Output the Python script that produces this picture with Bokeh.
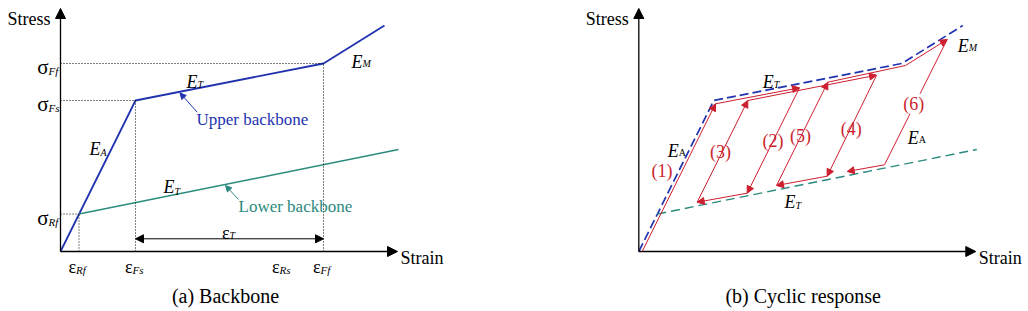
from bokeh.plotting import figure
from bokeh.layouts import row
from bokeh.models import Arrow, NormalHead, ColumnDataSource, Range1d
from bokeh.core.properties import value
from bokeh.embed import file_html
from bokeh.resources import INLINE

# ---------------- data (schematic units) ----------------
# upper backbone: austenite (E_A) -> transformation plateau (E_T) -> martensite (E_M)
upper_strain = [0.0, 7.5, 26.3, 32.4]
upper_stress = [0.0, 15.1, 18.8, 22.6]
# lower backbone (reverse transformation, E_T)
lower_strain = [1.85, 33.8]
lower_stress = [3.75, 10.2]
# characteristic strains / stresses (panel a)
eps_names = ["Rf", "Fs", "Rs", "Ff"]
eps_values = [1.85, 7.5, 22.2, 26.3]
sig_names = ["Rf", "Fs", "Ff"]
sig_values = [3.75, 15.1, 18.8]
sig_strain = [1.85, 7.5, 26.3]
# cyclic response path (panel b)
cyc_strain = [0.34, 7.67, 16.07, 10.84, 5.84, 10.9, 23.77, 18.84, 13.77, 18.9, 26.67, 30.84, 24.57, 20.84]
cyc_stress = [0.0, 14.77, 16.37, 5.83, 4.93, 15.1, 17.63, 7.53, 6.6, 16.93, 18.6, 21.2, 8.67, 8.0]
cyc_arrow = [True, True, True, True, True, True, True, True, True, False, True, False, True]
cyc_labels = ["(1)", "(2)", "(3)", "(4)", "(5)", "(6)"]
cyc_label_x = [2.33, 13.43, 8.17, 21.24, 16.17, 27.5]
cyc_label_y = [8.1, 11.1, 9.93, 12.27, 11.6, 14.77]
axis_len_x = 33.7
axis_len_y = 24.3

FONT = "Liberation Serif"
BLUE = "#2233b0"
TEAL = "#2a8a7e"
RED = "#cc1f30"


def lab(p, x, y, text, size=18, color="black", style="normal", align="left", baseline="alphabetic", bg=None):
    kw = {}
    if bg is not None:
        kw = dict(background_fill_color=bg)
    p.text(x=[x], y=[y], text=[text], text_align=align, text_baseline=baseline,
           text_font=value(FONT), text_font_size=f"{size}px", text_font_style=style,
           text_color=color, **kw)


def sub_label(p, x, y, main, sub, size=18, sub_size=10, color="black", style="italic",
              sub_style="italic", dy=0.3):
    lab(p, x, y, main, size=size, color=color, style=style, align="right")
    lab(p, x, y - dy, sub, size=sub_size, color=color, style=sub_style, align="left")


def make_fig(x0):
    p = figure(width=514, height=311, x_range=Range1d(x0, x0 + 51.4), y_range=Range1d(-6.0, 25.1),
               x_axis_type=None, y_axis_type=None, output_backend="svg", toolbar_location=None,
               min_border=0, outline_line_color=None, background_fill_color="white",
               border_fill_color="white")
    # axes as arrows
    p.add_layout(Arrow(end=NormalHead(size=10, fill_color="black", line_color="black"),
                       x_start=0, y_start=0, x_end=axis_len_x, y_end=0, line_width=1.3))
    p.add_layout(Arrow(end=NormalHead(size=10, fill_color="black", line_color="black"),
                       x_start=0, y_start=0, x_end=0, y_end=axis_len_y, line_width=1.3))
    lab(p, -1.0, 23.3, "Stress", size=18, align="right")
    lab(p, axis_len_x + 0.3, -0.6, "Strain", size=18, align="left")
    return p


# ---------------- panel (a) ----------------
pa = make_fig(-6.0)
pa.line(upper_strain, upper_stress, line_color=BLUE, line_width=1.8)
pa.line(lower_strain, lower_stress, line_color=TEAL, line_width=1.4)

# dotted guide lines
h = ColumnDataSource(dict(x0=[0] * len(sig_values), y0=sig_values, x1=sig_strain, y1=sig_values))
v = ColumnDataSource(dict(x0=sig_strain, y0=[0] * len(sig_values), x1=sig_strain, y1=sig_values))
for src in (h, v):
    pa.segment(x0="x0", y0="y0", x1="x1", y1="y1", source=src, line_color="black",
               line_width=1, line_dash="1 2")

for n, s in zip(sig_names, sig_values):
    sub_label(pa, -1.2, s - 0.35, "σ", n, size=21, sub_size=11, style="normal", dy=0.4)
for n, e in zip(eps_names, eps_values):
    sub_label(pa, e - 0.3, -1.5, "ε", n, size=18, sub_size=11, style="normal", dy=0.3)

# epsilon_T double arrow
pa.add_layout(Arrow(start=NormalHead(size=8, fill_color="black", line_color="black"),
                    end=NormalHead(size=8, fill_color="black", line_color="black"),
                    x_start=eps_values[1], y_start=1.27, x_end=eps_values[3], y_end=1.27, line_width=1))
sub_label(pa, (eps_values[1] + eps_values[3]) / 2, 1.83, "ε", "T", size=18, sub_size=10, style="normal", dy=0.25)

sub_label(pa, 13.7, 17.0, "E", "T")
sub_label(pa, 30.2, 19.0, "E", "M", dy=0.2)
sub_label(pa, 4.0, 10.27, "E", "A", dy=0.35)
sub_label(pa, 11.4, 6.5, "E", "T", dy=0.45)

# pointer arrows
pa.add_layout(Arrow(end=NormalHead(size=6, fill_color=BLUE, line_color=BLUE),
                    x_start=13.67, y_start=13.93, x_end=11.95, y_end=15.85, line_color=BLUE, line_width=1))
lab(pa, 13.6, 13.2, "Upper backbone", size=17, color=BLUE, baseline="middle")
pa.add_layout(Arrow(end=NormalHead(size=6, fill_color=TEAL, line_color=TEAL),
                    x_start=17.8, y_start=5.2, x_end=16.5, y_end=6.6, line_color=TEAL, line_width=1))
lab(pa, 17.8, 4.53, "Lower backbone", size=17, color=TEAL, baseline="middle")

lab(pa, 16.5, -4.4, "(a) Backbone", size=20, align="center", baseline="middle")

# ---------------- panel (b) ----------------
pb = make_fig(-12.43)
pb.line(upper_strain, upper_stress, line_color=BLUE, line_width=1.7, line_dash="9 4")
pb.line(lower_strain, lower_stress, line_color=TEAL, line_width=1.4, line_dash="9 5")

seg_a = dict(x0=[], y0=[], x1=[], y1=[])
seg_n = dict(x0=[], y0=[], x1=[], y1=[])
for i, has_arrow in enumerate(cyc_arrow):
    d = seg_a if has_arrow else seg_n
    d["x0"].append(cyc_strain[i]); d["y0"].append(cyc_stress[i])
    d["x1"].append(cyc_strain[i + 1]); d["y1"].append(cyc_stress[i + 1])
pb.segment(x0="x0", y0="y0", x1="x1", y1="y1", source=ColumnDataSource(seg_n), line_color=RED, line_width=1)
pb.add_layout(Arrow(end=NormalHead(size=7, fill_color=RED, line_color=RED),
                    source=ColumnDataSource(seg_a), x_start="x0", y_start="y0", x_end="x1", y_end="y1",
                    line_color=RED, line_width=1))

for t, x, y in zip(cyc_labels, cyc_label_x, cyc_label_y):
    lab(pb, x, y, t, size=18, color=RED, align="center", baseline="middle", bg="white")

sub_label(pb, 13.5, 17.0, "E", "T", dy=0.25)
sub_label(pb, 4.0, 10.1, "E", "A", sub_style="normal", dy=0.2)
sub_label(pb, 33.0, 20.6, "E", "M", dy=0.2)
sub_label(pb, 15.67, 4.93, "E", "T", dy=0.35)
sub_label(pb, 28.0, 11.37, "E", "A", sub_style="normal", dy=0.2)

lab(pb, 16.44, -4.4, "(b) Cyclic response", size=20, align="center", baseline="middle")

layout = row(pa, pb)
open("out.html", "w").write(file_html(layout, INLINE))
